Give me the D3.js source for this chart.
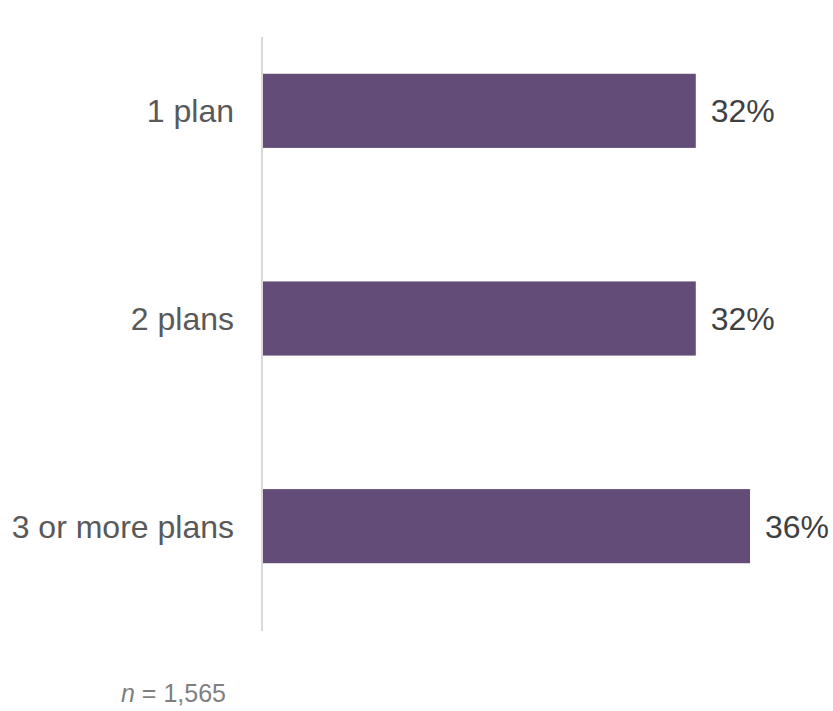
<!DOCTYPE html>
<html>
<head>
<meta charset="utf-8">
<style>
    body { margin: 0; background: #fff; }
    svg { display: block; font-family: "Liberation Sans", Arial, sans-serif; }
</style>
</head>
<body>
    <svg id="chart"></svg>
<script src="https://cdn.jsdelivr.net/npm/d3@7"></script>
<script>
    "use strict"
    const categories = ["1 plan", "2 plans", "3 or more plans"];
    const shares = [32, 32, 36];
    const footnoteN = "1,565";

    const width = 833;
    const height = 711;

    const svg = d3.select("#chart")
        .attr("width", width)
        .attr("height", height);

    const x = d3.scaleLinear()
        .domain([0, 36])
        .range([262, 750]);

    const y = d3.scaleBand()
        .domain(categories)
        .range([7, 630])
        .paddingInner(0.643)
        .paddingOuter(0.3215);

    // bars
    svg.append("g")
        .selectAll("rect")
        .data(categories)
        .join("rect")
        .attr("x", x(0))
        .attr("y", d => y(d))
        .attr("width", (d, i) => x(shares[i]) - x(0))
        .attr("height", y.bandwidth())
        .attr("fill", "#634c77");

    // axis line
    svg.append("line")
        .attr("x1", x(0)).attr("x2", x(0))
        .attr("y1", 37).attr("y2", 631)
        .attr("stroke", "#d9d9d9")
        .attr("stroke-width", 2);

    // category labels
    svg.append("g")
        .selectAll("text")
        .data(categories)
        .join("text")
        .attr("x", 234)
        .attr("y", d => y(d) + y.bandwidth() / 2)
        .attr("dy", "0.36em")
        .attr("text-anchor", "end")
        .attr("font-size", 32)
        .attr("fill", "#595959")
        .text(d => d);

    // value labels
    svg.append("g")
        .selectAll("text")
        .data(categories)
        .join("text")
        .attr("x", (d, i) => x(shares[i]) + 15)
        .attr("y", d => y(d) + y.bandwidth() / 2)
        .attr("dy", "0.36em")
        .attr("font-size", 32)
        .attr("fill", "#404040")
        .text((d, i) => shares[i] + "%");

    // footnote
    const note = svg.append("text")
        .attr("x", 121)
        .attr("y", 702)
        .attr("font-size", 25)
        .attr("fill", "#7f7f7f");
    note.append("tspan").attr("font-style", "italic").text("n");
    note.append("tspan").text(" = " + footnoteN);
</script>
</body>
</html>
